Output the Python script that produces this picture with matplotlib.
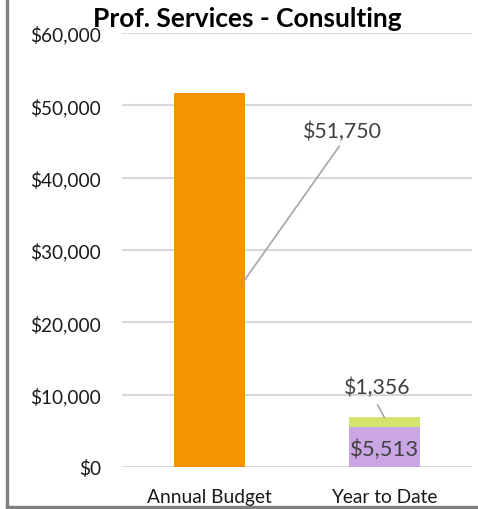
import matplotlib.pyplot as plt
from matplotlib.lines import Line2D
from matplotlib.ticker import FuncFormatter

categories = ['Annual Budget', 'Year to Date']
budget = [51750, 0]
ytd_spent = [0, 5513]
ytd_extra = [0, 1356]

plt.rcParams['font.family'] = ['Lato', 'DejaVu Sans']

fig = plt.figure(figsize=(4.78, 5.10), dpi=100)
ax = fig.add_axes([0.255, 0.0824, 0.732, 0.851])

x = [0, 1]
w = 0.405
ax.bar(x[0], budget[0], width=w, color='#F59300', zorder=3)
ax.bar(x[1], ytd_spent[1], width=w, color='#C9A6E4', zorder=3)
ax.bar(x[1], ytd_extra[1], width=w, bottom=ytd_spent[1], color='#D4E26E', zorder=3)

ax.set_xlim(-0.5, 1.5)
ax.set_ylim(0, 60000)
ax.set_yticks(range(0, 60001, 10000))
ax.yaxis.set_major_formatter(FuncFormatter(lambda v, p: '${:,.0f}'.format(v)))
ax.set_xticks(x)
ax.set_xticklabels(categories)
ax.tick_params(axis='y', length=0, pad=15, labelsize=13.7, labelcolor='#1a1a1a')
ax.tick_params(axis='x', length=0, pad=15, labelsize=13.8, labelcolor='#1a1a1a')
ax.grid(axis='y', color='#D9D9D9', linewidth=1.5, zorder=0)
for s in ax.spines.values():
    s.set_visible(False)

lbl = '#404040'
# budget label with leader line from mid-bar
ax.annotate('${:,}'.format(budget[0]), xy=(x[0] + w / 2, budget[0] / 2),
            xytext=(0.763, 46450), ha='center', va='center', fontsize=15.3, color=lbl,
            arrowprops=dict(arrowstyle='-', color='#A6A6A6', lw=1.2, relpos=(0.5, 0),
                            shrinkA=2, shrinkB=0))
ax.annotate('${:,}'.format(ytd_extra[1]), xy=(x[1], ytd_spent[1] + ytd_extra[1]),
            xytext=(0.957, 11060), ha='center', va='center', fontsize=15.3, color=lbl,
            arrowprops=dict(arrowstyle='-', color='#A6A6A6', lw=1.2, relpos=(0.45, 0),
                            shrinkA=4, shrinkB=0))
ax.text(x[1], 2500, '${:,}'.format(ytd_spent[1]), ha='center', va='center',
        fontsize=15.8, color=lbl, zorder=4)

fig.text(0.517, 0.962, 'Prof. Services - Consulting', ha='center', va='center',
         fontsize=19, fontweight='bold', color='black')

# frame on the left and bottom edges
fig.add_artist(Line2D([0.0146, 0.0146], [0.004, 1.0], transform=fig.transFigure,
                      color='#808080', linewidth=2.4))
fig.add_artist(Line2D([0.0146, 1.0], [0.004, 0.004], transform=fig.transFigure,
                      color='#808080', linewidth=2.4))

fig.savefig('out.png', dpi=100)
